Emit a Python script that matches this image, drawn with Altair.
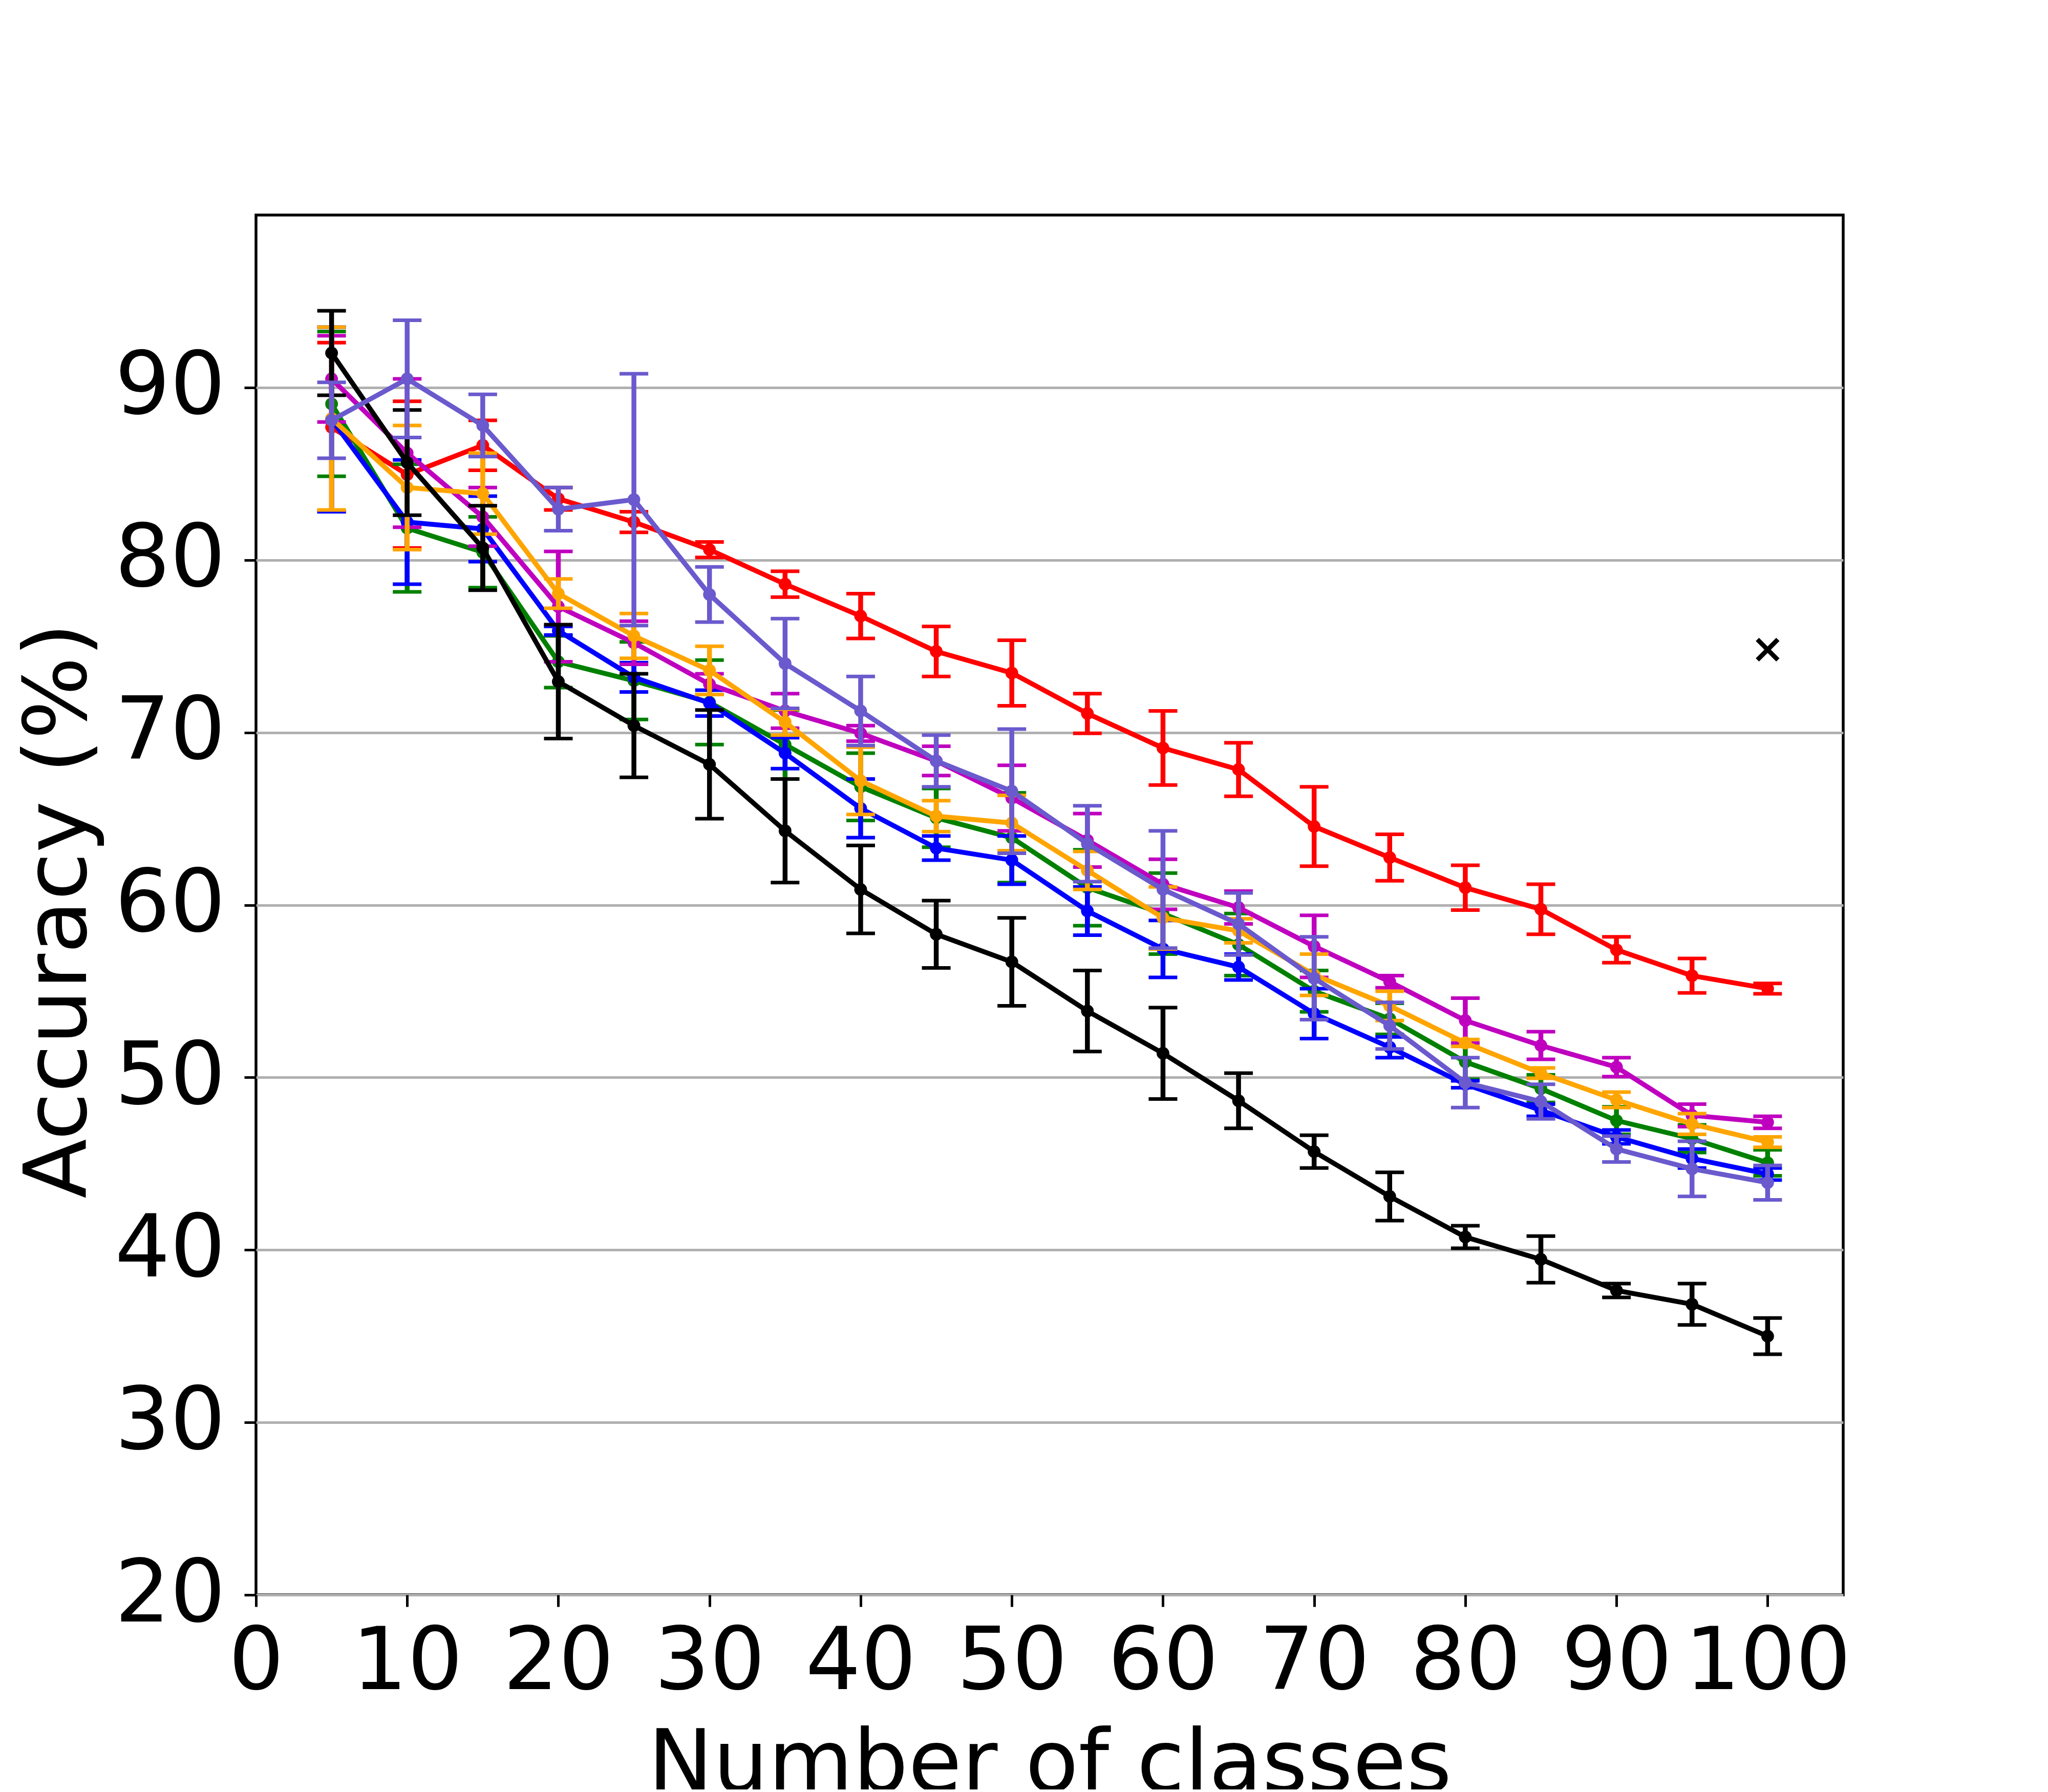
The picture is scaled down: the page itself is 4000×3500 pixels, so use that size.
import altair as alt
import pandas as pd

classes = [5, 10, 15, 20, 25, 30, 35, 40, 45, 50, 55, 60, 65, 70, 75, 80, 85, 90, 95, 100]

red_mean = [87.7, 84.95, 86.65, 83.55, 82.2, 80.6, 78.6, 76.75, 74.7, 73.45, 71.1, 69.1, 67.85, 64.55, 62.75, 61.0, 59.75, 57.4, 55.9, 55.15]
red_err = [4.9, 4.25, 1.45, 0.65, 0.6, 0.45, 0.75, 1.3, 1.45, 1.9, 1.15, 2.15, 1.55, 2.3, 1.35, 1.3, 1.45, 0.75, 1.0, 0.3]

green_mean = [89.05, 81.85, 80.45, 74.1, 73.0, 71.75, 69.3, 66.85, 65.05, 63.9, 61.0, 59.5, 57.7, 55.0, 53.4, 50.9, 49.35, 47.5, 46.45, 45.05]
green_err = [4.2, 3.7, 2.05, 1.5, 2.25, 2.45, 2.0, 1.95, 1.7, 2.6, 2.2, 2.35, 1.8, 1.2, 0.9, 1.0, 0.8, 0.8, 0.8, 0.75]

blue_mean = [88.15, 82.2, 81.8, 75.9, 73.2, 71.7, 68.8, 65.6, 63.3, 62.6, 59.65, 57.45, 56.4, 53.7, 51.75, 49.6, 48.1, 46.55, 45.3, 44.4]
blue_err = [5.35, 3.6, 1.9, 0.25, 0.85, 0.75, 0.9, 1.7, 0.7, 1.4, 1.4, 1.65, 0.75, 1.45, 0.6, 0.2, 0.35, 0.4, 0.55, 0.35]

magenta_mean = [90.5, 86.2, 82.5, 77.3, 75.2, 72.8, 71.25, 69.95, 68.35, 66.2, 63.75, 61.2, 59.85, 57.6, 55.55, 53.3, 51.85, 50.6, 47.8, 47.4]
magenta_err = [2.5, 4.3, 1.7, 3.2, 1.25, 0.6, 1.0, 0.45, 0.85, 1.9, 1.55, 1.45, 0.95, 1.8, 0.35, 1.3, 0.8, 0.55, 0.65, 0.35]

orange_mean = [88.2, 84.2, 83.85, 78.05, 75.6, 73.6, 70.6, 67.2, 65.15, 64.75, 62.0, 59.25, 58.5, 55.95, 54.15, 52.0, 50.25, 48.7, 47.3, 46.25]
orange_err = [5.3, 3.6, 2.35, 0.85, 1.3, 1.4, 0.75, 1.95, 0.9, 1.6, 1.1, 1.8, 0.7, 1.2, 0.85, 0.2, 0.3, 0.45, 0.6, 0.3]

black_mean = [92.0, 85.65, 80.7, 72.95, 70.4, 68.15, 64.3, 60.9, 58.3, 56.7, 53.85, 51.4, 48.65, 45.7, 43.1, 40.75, 39.45, 37.65, 36.85, 35.0]
black_err = [2.45, 3.05, 2.45, 3.3, 3.0, 3.15, 3.0, 2.55, 1.95, 2.55, 2.35, 2.65, 1.6, 0.95, 1.4, 0.65, 1.35, 0.4, 1.2, 1.05]

slate_mean = [88.1, 90.5, 87.8, 82.95, 83.5, 78.0, 74.0, 71.25, 68.35, 66.6, 63.55, 60.9, 58.9, 55.75, 53.0, 49.7, 48.6, 45.85, 44.7, 43.9]
slate_err = [2.2, 3.4, 1.8, 1.25, 7.3, 1.6, 2.6, 2.0, 1.5, 3.6, 2.2, 3.4, 1.8, 2.4, 1.35, 1.45, 1.0, 0.75, 1.6, 1.0]

cross_x = [100]
cross_y = [74.8]

series = [
    ("red", red_mean, red_err, "#ff0000"),
    ("green", green_mean, green_err, "#008000"),
    ("blue", blue_mean, blue_err, "#0000ff"),
    ("magenta", magenta_mean, magenta_err, "#bf00bf"),
    ("orange", orange_mean, orange_err, "#ffa500"),
    ("black", black_mean, black_err, "#000000"),
    ("slate", slate_mean, slate_err, "#6a5acd"),
]

FONT = "DejaVu Sans"
FS = 170

x_scale = alt.Scale(domain=[0, 105], nice=False, zero=False)
y_scale = alt.Scale(domain=[20, 100], nice=False, zero=False)

x_axis = alt.Axis(
    values=list(range(0, 101, 10)), title="Number of classes", grid=False,
    domain=False, tickSize=23, tickWidth=5, tickColor="black",
    labelFont=FONT, labelFontSize=FS, labelColor="black", labelPadding=160,
    labelBaseline="alphabetic", labelFlush=False, labelOverlap=False, labelLimit=2000,
    titleFont=FONT, titleFontSize=FS, titleFontWeight="normal", titleColor="black",
    titleBaseline="alphabetic", titleY=383, titleLimit=4000,
)
y_axis = alt.Axis(
    values=list(range(20, 91, 10)), title="Accuracy (%)", grid=True,
    gridColor="#b0b0b0", gridWidth=5, domain=False, tickSize=23, tickWidth=5,
    tickColor="black", labelFont=FONT, labelFontSize=FS, labelColor="black",
    labelPadding=37, labelOverlap=False, labelFlush=False, labelLimit=2000,
    titleFont=FONT, titleFontSize=FS, titleFontWeight="normal", titleColor="black",
    titleBaseline="alphabetic", titleX=-333, titleY=1358, titleAngle=-90, titleLimit=4000,
)


def X(field):
    return alt.X(field, type="quantitative", scale=x_scale, axis=x_axis, title="Number of classes")


def Y(field):
    return alt.Y(field, type="quantitative", scale=y_scale, axis=y_axis, title="Accuracy (%)")


layers = []
for name, mean, err, col in series:
    df = pd.DataFrame({
        "x": classes,
        "y": mean,
        "lo": [m - e for m, e in zip(mean, err)],
        "hi": [m + e for m, e in zip(mean, err)],
    })
    base = alt.Chart(df)
    line = base.mark_line(color=col, strokeWidth=9.5).encode(x=X("x"), y=Y("y"))
    bars = base.mark_rule(color=col, strokeWidth=9.5).encode(x=X("x"), y=Y("lo"), y2="hi:Q")
    cap_lo = base.mark_tick(color=col, orient="horizontal", size=56, thickness=7, opacity=1).encode(
        x=X("x"), y=Y("lo"))
    cap_hi = base.mark_tick(color=col, orient="horizontal", size=56, thickness=7, opacity=1).encode(
        x=X("x"), y=Y("hi"))
    pts = base.mark_point(color=col, filled=True, size=620, opacity=1).encode(x=X("x"), y=Y("y"))
    layers += [line, bars, cap_lo, cap_hi, pts]

cross_df = pd.DataFrame({"x": cross_x, "y": cross_y})
cross = alt.Chart(cross_df).mark_point(
    shape="M -1 -1 L 1 1 M -1 1 L 1 -1", filled=False, color="black",
    strokeWidth=9, size=1600, opacity=1,
).encode(x=X("x"), y=Y("y"))
layers.append(cross)

chart = alt.layer(*layers).properties(
    width=3100, height=2695,
    autosize=alt.AutoSizeParams(type="none"),
    padding={"left": 492, "top": 412, "right": 300, "bottom": 380},
    background="white",
).configure_view(stroke="black", strokeWidth=5.5)

chart.save("out.html", embed_options={"renderer": "svg", "actions": False})
